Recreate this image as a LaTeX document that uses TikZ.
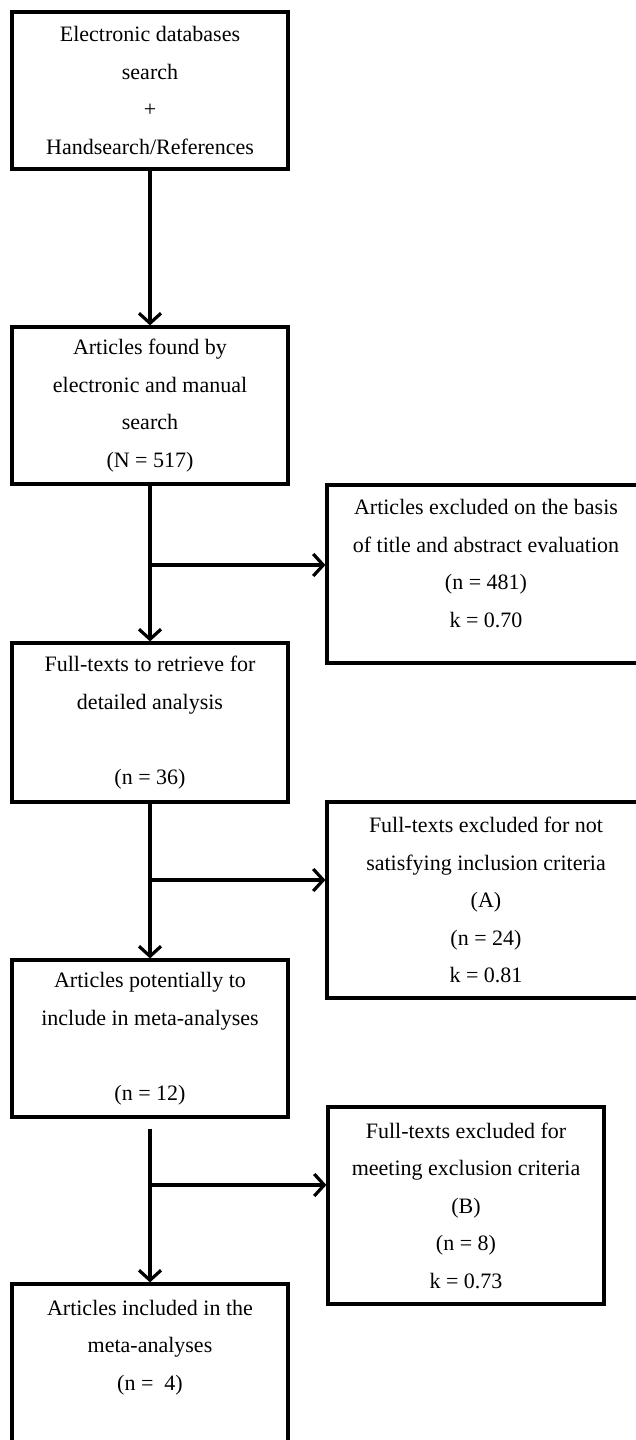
\documentclass[tikz,border=0pt]{standalone}
\usepackage{fontspec}
\setmainfont{Liberation Serif}
\usetikzlibrary{arrows.meta}

\begin{document}
\begin{tikzpicture}[x=1pt, y=-1pt,
    caja/.style={draw, line width=3.2pt, align=center, inner sep=0pt,
      minimum width=276pt, minimum height=157pt,
      font=\fontsize{22}{37.5}\selectfont},
    flecha/.style={line width=3.2pt, -{Straight Barb[length=10pt, width=22pt]}}]
    % Marco de la figura
    \useasboundingbox (0, 0) rectangle (636, 1440);

    % Cajas de la columna izquierda
    \node[caja] (search) at (150, 90.5) {Electronic databases\\ search\\ +\\ Handsearch/References};
    \node[caja] (found) at (150, 405.5) {Articles found by\\ electronic and manual\\ search\\ (N = 517)};
    \node[caja, minimum height=159pt] (retrieve) at (150, 722.5) {Full-texts to retrieve for\\ detailed analysis\\[37.5pt] (n = 36)};
    \node[caja] (potential) at (150, 1038.5) {Articles potentially to\\ include in meta-analyses\\[37.5pt] (n = 12)};
    \node[caja, minimum height=160pt] (included) at (150, 1364) {Articles included in the\\ meta-analyses\\ (n =\ \ 4)\\ \mbox{}};

    % Cajas de exclusion (derecha)
    \node[caja, minimum width=318pt, minimum height=178pt] (excl1) at (486, 574)
      {Articles excluded on the basis\\ of title and abstract evaluation\\ (n = 481)\\ k = 0.70\\[-16.5pt] \mbox{}};
    \node[caja, minimum width=318pt, minimum height=196pt] (excl2) at (486, 900)
      {Full-texts excluded for not\\ satisfying inclusion criteria\\ (A)\\ (n = 24)\\ k = 0.81};
    \node[caja, minimum height=197pt] (excl3) at (466, 1205.5)
      {Full-texts excluded for\\ meeting exclusion criteria\\ (B)\\ (n = 8)\\ k = 0.73};

    % Puntos de bifurcacion
    \coordinate (br1) at (150, 565);
    \coordinate (br2) at (150, 880);
    \coordinate (br3) at (150, 1185);

    % Flechas verticales
    \draw[flecha] (search) -- (found);
    \draw[flecha] (found) -- (retrieve);
    \draw[flecha] (retrieve) -- (potential);
    \draw[flecha, shorten <=10pt] (potential) -- (included);

    % Flechas hacia las exclusiones
    \draw[flecha] (br1) -- (br1 -| excl1.west);
    \draw[flecha] (br2) -- (br2 -| excl2.west);
    \draw[flecha] (br3) -- (br3 -| excl3.west);
\end{tikzpicture}
\end{document}
